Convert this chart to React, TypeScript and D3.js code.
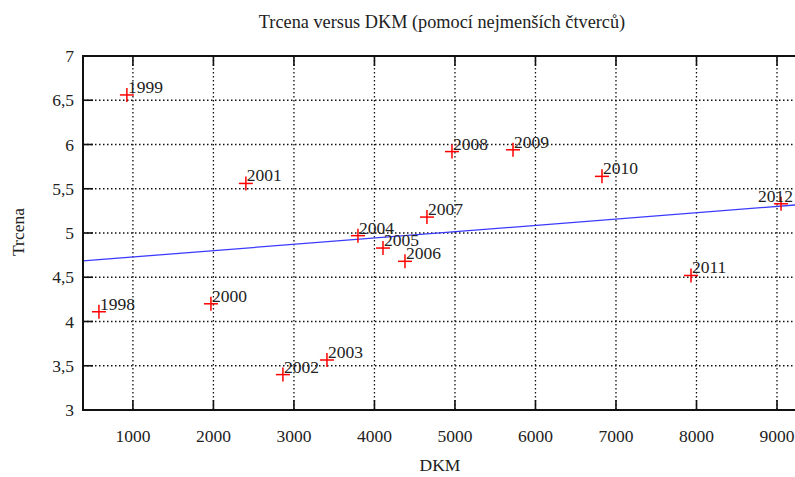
import React from "react";
import * as d3 from "d3";

const years = ["1998","1999","2000","2001","2002","2003","2004","2005","2006","2007","2008","2009","2010","2011","2012"];
const dkm = [578, 925, 1969, 2403, 2863, 3410, 3795, 4106, 4379, 4652, 4963, 5721, 6826, 7932, 9050];
const trcena = [4.11, 6.56, 4.2, 5.56, 3.4, 3.565, 4.97, 4.83, 4.68, 5.18, 5.92, 5.94, 5.64, 4.52, 5.33];
const xTicks = [1000, 2000, 3000, 4000, 5000, 6000, 7000, 8000, 9000];
const yTicks = [3, 3.5, 4, 4.5, 5, 5.5, 6, 6.5, 7];
const title = "Trcena versus DKM (pomocí nejmenších čtverců)";
const xTitle = "DKM";
const yTitle = "Trcena";

const W = 795, H = 477;
const left = 83, top = 56, bottom = 410, right = 801;
const FONT = "'Liberation Serif', 'Times New Roman', serif";
const FS = 17.5;

export default function App() {
  const x = d3.scaleLinear().domain([380, 9298]).range([left, right]);
  const y = d3.scaleLinear().domain([3, 7]).range([bottom, top]);

  // least squares fit
  const mx = d3.mean(dkm)!;
  const my = d3.mean(trcena)!;
  let sxy = 0, sxx = 0;
  dkm.forEach((v, i) => { sxy += (v - mx) * (trcena[i] - my); sxx += (v - mx) * (v - mx); });
  const slope = sxy / sxx;
  const icpt = my - slope * mx;
  const fit = (v: number) => icpt + slope * v;
  const line = d3.line<number>().x(d => x(d)).y(d => y(fit(d)));
  const dom = x.domain();

  const fmt = (v: number) => String(v).replace(".", ",");
  const tickLen = 10;
  const grid = "1.5,2.5";

  return (
    <svg width={W} height={H} style={{ position: "absolute", left: 0, top: 0, background: "#fff" }}
      fontFamily={FONT}>
      <rect width={W} height={H} fill="#fff" />
      <text x={442} y={28} textAnchor="middle" fontSize={18.3} fill="#222">{title}</text>

      {/* grid */}
      {xTicks.map(t => (
        <line key={"gx" + t} x1={x(t)} x2={x(t)} y1={top} y2={bottom} stroke="#111" strokeWidth={1.3} strokeDasharray={grid} />
      ))}
      {yTicks.filter(t => t > 3 && t < 7).map(t => (
        <line key={"gy" + t} x1={left} x2={right} y1={y(t)} y2={y(t)} stroke="#111" strokeWidth={1.3} strokeDasharray={grid} />
      ))}

      {/* ticks */}
      {xTicks.map(t => (
        <g key={"tx" + t}>
          <line x1={x(t)} x2={x(t)} y1={bottom} y2={bottom - tickLen} stroke="#111" strokeWidth={1.6} />
          <line x1={x(t)} x2={x(t)} y1={top} y2={top + tickLen} stroke="#111" strokeWidth={1.6} />
          <text x={x(t)} y={442} textAnchor="middle" fontSize={FS} fill="#222">{t}</text>
        </g>
      ))}
      {yTicks.map(t => (
        <g key={"ty" + t}>
          <line x1={left} x2={left + tickLen} y1={y(t)} y2={y(t)} stroke="#111" strokeWidth={1.6} />
          <text x={74} y={y(t) + 6} textAnchor="end" fontSize={FS} fill="#222">{fmt(t)}</text>
        </g>
      ))}

      {/* fit line */}
      <path d={line([dom[0], dom[1]]) || ""} fill="none" stroke="#3a3aff" strokeWidth={1.3} />

      {/* points */}
      {dkm.map((v, i) => {
        const px = x(v), py = y(trcena[i]);
        const lx = Math.min(px + 1, W - 37);
        return (
          <g key={years[i]}>
            <line x1={px - 7} x2={px + 7} y1={py} y2={py} stroke="#ff0000" strokeWidth={1.5} />
            <line x1={px} x2={px} y1={py - 7} y2={py + 7} stroke="#ff0000" strokeWidth={1.5} />
            <text x={lx} y={py - 2} fontSize={FS} fill="#222">{years[i]}</text>
          </g>
        );
      })}

      {/* frame */}
      <rect x={left} y={top} width={right - left} height={bottom - top} fill="none" stroke="#111" strokeWidth={2} />

      <text x={440} y={471} textAnchor="middle" fontSize={FS} fill="#222">{xTitle}</text>
      <text transform={`translate(24,232) rotate(-90)`} textAnchor="middle" fontSize={FS} fill="#222">{yTitle}</text>
    </svg>
  );
}
